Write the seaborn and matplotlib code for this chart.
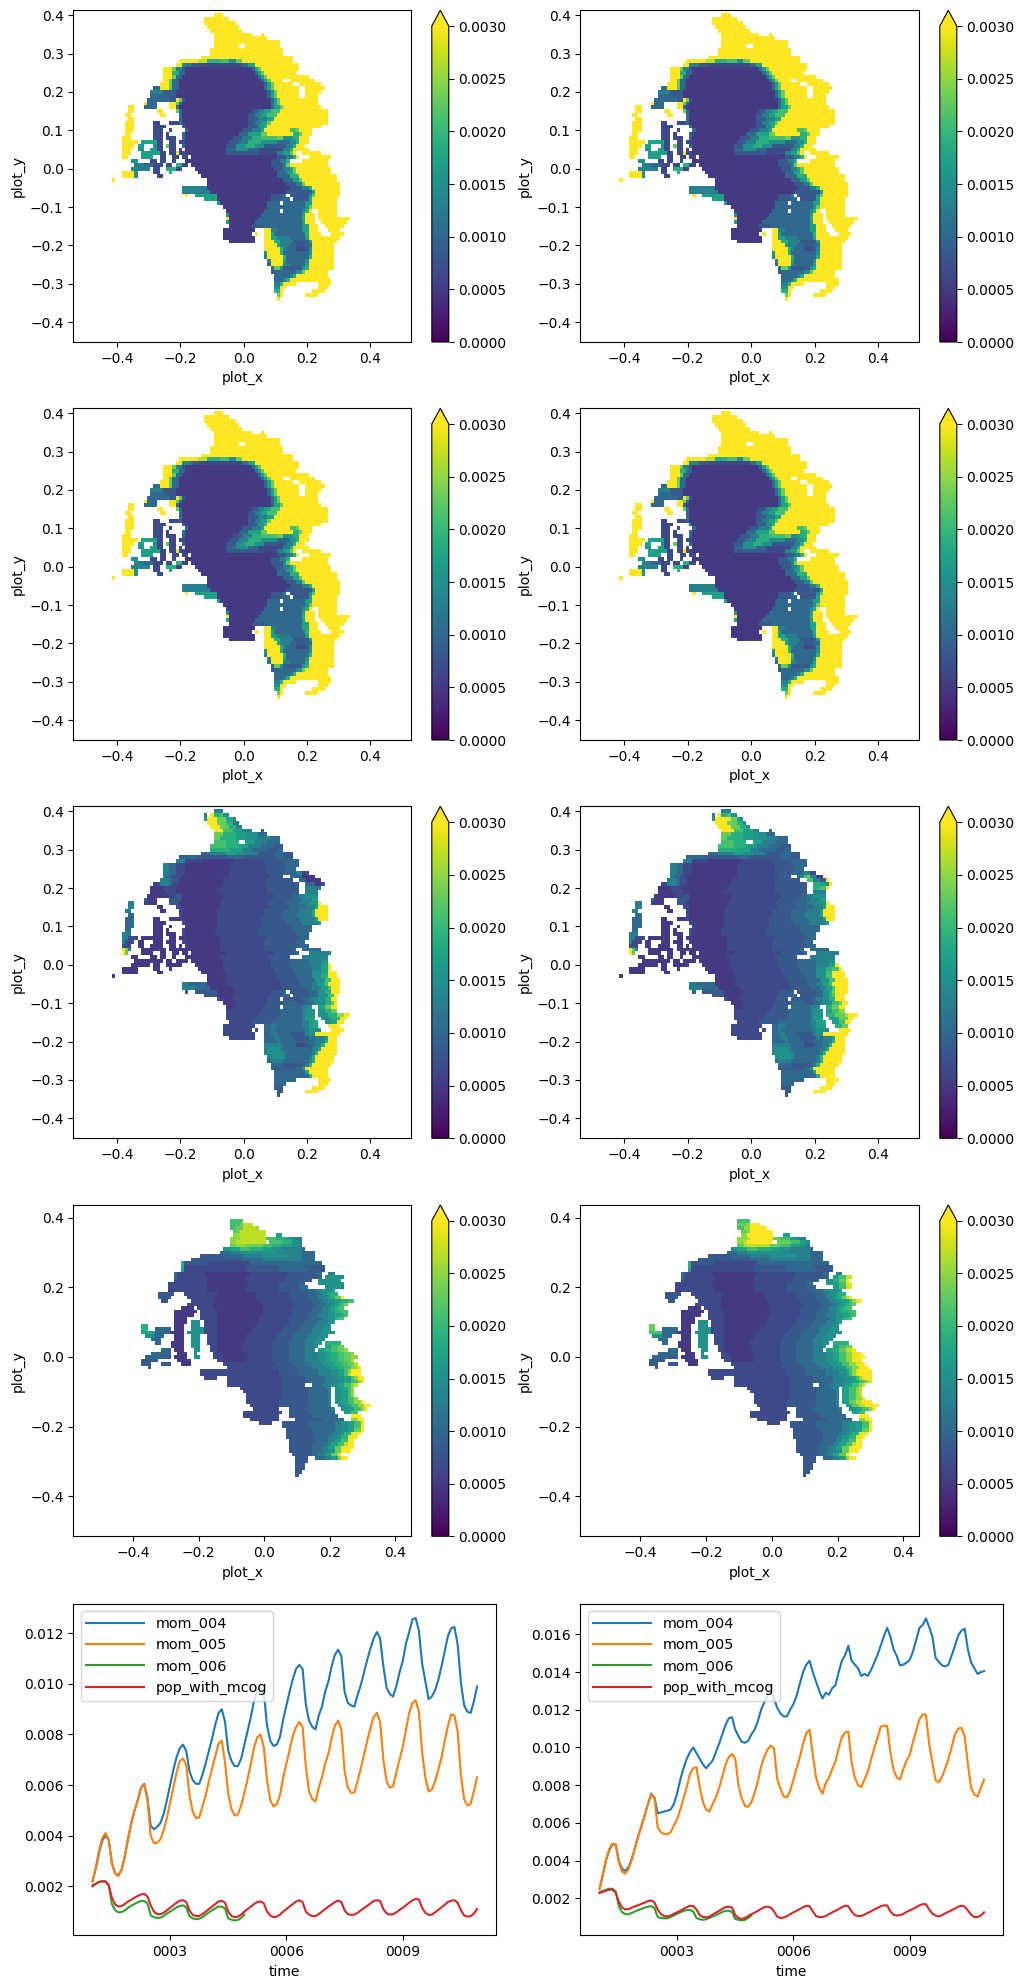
import re
import numpy as np
import pandas as pd
import matplotlib
matplotlib.use('Agg')
import matplotlib.pyplot as plt
import seaborn as sns

plt.rcParams['font.size'] = 10

# colour levels of the maps, letter -> value, Y is above the colour bar
level_names = list('abcdefghijklmnY')
level_values = [0.0003, 0.0005, 0.00066, 0.00083, 0.0010, 0.0013, 0.0015, 0.0017,
                0.0019, 0.0021, 0.0023, 0.0025, 0.0027, 0.0029, 0.0035]

# maps, run length coded rows on a 0.01 grid, y from 0.40 down, x from -0.42
map_top = [
"33. 3Y","30. 8Y","30. 10Y","31. 10Y","32. 10Y","33. 12Y 3. 1Y","33. 17Y","33. 21Y","33. 8Y 2. 11Y","32. 23Y","32. 23Y","29. 29Y",
"22. 6Y 3m 4i 3j 2g 2k 16Y","21. 2Y 3f 3d 13c 2e 2h 14Y","17. 3Y 1k 2f 1d 21b 1e 1h 1k 12Y","17. 3Y 2i 2e 22b 1e 1h 1k 10Y",
"17. 3Y 1k 2e 24b 1e 1h 1k 13Y","17. 2Y 1k 2e 26b 1e 1h 1k 4Y 2. 8Y","16. 3Y 1k 2e 27b 1e 1h 1k 6Y 2. 7Y",
"14. 2e 3Y 1k 2e 27b 1e 1h 1k 8Y 2. 6Y","13. 4f 4d 29b 1e 1h 1k 7Y 2. 5Y","13. 5e 3d 29b 1e 1h 1k 7Y 2. 4Y",
"12. 7e 2d 1Y 1k 1d 27b 1e 1h 1k 12Y","11. 1Y 3e 4. 2Y 1k 1e 28b 1e 1h 1k 12Y","6. 2Y 3. 4e 4. 2Y 1e 29b 1e 2h 1k 12Y",
"6. 2Y 7. 2Y 4. 1k 1e 22b 2d 2f 2h 3j 15Y","5. 2Y 9. 2Y 4. 1e 21b 2d 2f 2h 3j 16Y","6. 2Y 14. 1e 21b 3d 3f 2h 17Y",
"5. 3Y 6. 2c 3. 3c 1e 21b 2d 2f 2h 1k 18Y","5. 3Y 6. 4c 5. 1e 20b 3d 2g 1i 17Y","5. 3Y 6. 3c 2. 1c 4. 1e 17b 3d 3f 1h 8Y 2j 1k 4Y",
"5. 2Y 7. 3c 1. 1c 4. 1e 17b 3e 4h 2k 8Y 2i 1k 3Y","4. 3Y 7. 3c 1. 3c 2. 1e 15b 3d 3f 3i 5j 2k 3g 2i 3Y",
"4. 5Y 1. 5h 2c 2. 2c 1. 2c 14b 3d 3f 4i 5g 4e 2g 1i 3Y","4. 4Y 1. 2h 3. 1g 2c 1. 1k 2c 2. 1e 13b 3d 3g 3i 3g 7d 2f 1i 3Y",
"4. 3Y 2. 2g 2. 2h 2c 2. 2c 1. 1c 1. 13b 3e 4g 3e 8c 2f 1i 5Y","4. 3Y 3. 6h 2c 1. 2c 1Y 2c 13b 10d 6c 2f 2h 1k 1Y 2. 6Y",
"4. 2Y 4. 4h 2. 2c 2. 2c 1. 2c 1. 27b 3d 2f 1i 1Y 3. 7Y","7. 2g 4. 2c 1. 2c 2. 1c 3. 27b 3d 2f 1i 4. 8Y",
"8. 3f 3e 3c 1. 2c 1. 2i 2c 1. 25b 4d 1f 1k 12Y","7. 6f 1. 2c 2. 3i 2c 4. 25b 3d 2f 1h 1k 11Y","4. 4Y 1g 5. 2c 3. 1i 8. 25b 3e 2h 1k 11Y",
"4. 4Y 1g 6. 2c 12. 24b 4e 3i 12Y","1. 1Y 29. 24b 3e 2h 1k 11Y","31. 25b 3d 2f 1k 11Y","23. 8f 26b 4d 2f 1i 9Y","23. 9f 24b 5d 3d 1h 8Y",
"24. 1Y 2. 7h 17b 4d 1f 1. 6d 1g 1k 8Y","30. 4h 17b 4d 2e 1. 5d 1h 8Y","34. 1h 15b 4e 1. 7e 2h 8Y","36. 14b 12e 1g 1k 8Y",
"37. 12b 3e 2e 1. 6e 1g 1i 1Y 2. 6Y","37. 1g 10b 13e 1h 3Y 1. 6Y","37. 1Y 9b 14e 1i 3Y 1. 10Y","37. 1h 8b 15e 1h 3Y 2. 8Y",
"38. 7b 4d 12e 2h 3Y 2. 6Y","36. 10b 3. 2Y 2f 8e 2h 3Y 3. 4Y","36. 9b 1. 1Y 2. 2Y 1h 10e 1i 4Y 3. 4Y","36. 10b 3. 2Y 2h 4f 5e 1h 10Y",
"38. 8b 3. 3Y 2i 4f 5d 1h 8Y","49. 4Y 1h 3f 2e 3d 2e 7Y","49. 5Y 1i 1f 3e 3c 1d 1g 7Y","49. 1g 4Y 1i 8e 1g 7Y","49. 1f 5Y 1i 7e 1i 7Y",
"50. 1f 4Y 1h 6e 1g 8Y","50. 1e 4Y 2f 5e 1h 8Y","51. 1e 2k 1g 6d 1g 1i 8Y","51. 1d 7e 2g 1k 7Y","52. 5e 1f 1i 10Y","52. 3e 1f 1i 13Y",
"52. 2f 1i 4Y 7. 4Y","52. 2g 2Y 10. 3Y","52. 2i 1Y 9. 4Y","53. 1k 1Y 7. 4Y","53. 1Y",
]

map_mid = [
"33. 3f","30. 1f 1. 1Y 2i 1j 2g","30. 1g 3Y 3k 2h 1g","31. 3Y 3k 2i 2f","32. 3Y 3k 2i 2f","33. 3Y 3j 3h 3f 3. 1e","33. 3k 4i 3h 4g 3e",
"33. 2k 5i 3h 4g 4f 3e","33. 4j 4i 2. 3h 4f 4e","32. 5j 4i 3h 4f 4e 3d","32. 6i 4h 3f 5e 3d 2e","29. 3e 5f 3h 3g 4f 5d 3e 3d",
"22. 6e 5d 5d 4e 5d 5d 3e 3d","21. 3f 5c 10b 10c 6d 5e","17. 2f 2e 3c 14b 12c 6d 4e","17. 2f 2e 3c 14b 12c 6d 3e",
"17. 2f 2e 3c 14b 12c 5d 4e 2f 2c","17. 1f 2e 3c 15b 13c 4d 2. 4e 4b","16. 3f 1e 2d 14b 14c 8d 2. 2e 5b",
"14. 2c 3f 1e 2c 14b 14c 10d 2. 3e 2b 1d","13. 4b 4c 14b 15c 10d 2. 5f","13. 5b 3c 13b 16c 10d 2. 4f",
"12. 7b 2c 2d 13b 16c 6d 2e 2f 4g","11. 1e 3b 4. 2d 2d 13b 15c 6d 4e 3f 2h","6. 2f 3. 4b 4. 2d 1d 13b 15c 6d 4e 3f 3g 1Y",
"6. 2f 7. 2b 4. 1c 1c 12b 16c 6d 5e 3f 1h 3Y","5. 2f 9. 2b 4. 1c 11b 15c 6d 5e 4f 1h 4Y","6. 2e 14. 1c 11b 15c 6d 4e 5f 1h 4Y",
"5. 3e 6. 2b 3. 3b 1c 11b 14c 7d 5e 5f 1h 3Y","5. 3e 6. 4b 5. 1c 10b 14c 8d 5e 5f 1h","5. 3e 6. 3b 2. 1b 4. 1c 9b 14c 10d 6e",
"5. 2e 7. 3b 1. 1b 4. 1c 9b 14c 11d 6e","4. 3f 7. 3b 1. 3b 2. 1c 9b 14c 12d 4e","4. 2f 3c 1. 5b 2b 2. 2b 1. 2b 11b 15c 10d 3e",
"4. 1f 3c 1. 2b 3. 1b 2b 1. 1b 2b 2. 1c 11b 14c 10d 3e","4. 3c 2. 2b 2. 2b 2b 2. 2b 1. 1b 1. 11b 14c 11d 3e",
"4. 1Y 1k 1f 3. 6b 2b 1. 2b 1c 2b 11b 14c 9d 1e 2. 6e","4. 1Y 1k 4. 4b 2. 2b 2. 2b 1. 2b 1. 11b 15c 7d 1e 3. 7f",
"7. 2b 4. 2b 1. 2b 2. 1b 3. 11b 15c 7d 4. 8f","8. 6b 3b 1. 2b 1. 2b 2b 1. 10b 15c 6d 6e 4f 2g","7. 6b 1. 2b 2. 3b 2b 4. 9b 15c 6d 6e 4f 2h 1Y",
"4. 3b 1b 1b 5. 2b 3. 1b 8. 8b 16c 6d 6e 3f 2h 1Y","4. 3b 2b 6. 2b 12. 8b 15c 6d 6e 3g 2h 3Y","1. 1b 29. 6b 16c 6d 5e 3g 2i 3Y",
"31. 6b 17c 6d 5e 3g 2j 3Y","23. 2f 6e 6b 17c 6d 4e 2f 2h 1j 4Y","23. 4f 5e 7b 16c 6d 3e 3f 2h 1j 3Y",
"24. 1e 2. 7d 6b 11c 4d 1e 1. 6d 3e 2g 2i 3Y","30. 4d 5b 12c 4d 2e 1. 5d 3e 3g 2j 1Y","34. 1d 4b 11c 4d 1. 6d 2e 2f 3g 2i 2Y",
"36. 4b 10c 5d 4e 3d 2e 1f 3g 2i 1k 1Y","37. 3b 9c 5d 1. 6e 2f 1g 2. 2h 2k 1n 1Y","37. 11c 6d 7e 1f 3g 1. 2g 2i 2k",
"37. 10c 7d 7e 1f 3g 1. 3g 3i 2l 2Y","37. 9c 7d 8e 1f 3h 2. 3g 3i 2Y","38. 7c 6d 10e 2f 3h 2. 2g 2h 2Y","36. 10c 3. 2e 2f 8e 2f 3h 3. 4Y",
"36. 9c 1. 1c 2. 2e 1f 10e 1f 4g 3. 4Y","36. 10c 3. 2e 2f 4e 5d 1f 2g 8Y","38. 8c 3. 3e 2f 4e 5d 1f 1e 3f 1h 3Y","49. 4e 1f 3e 2e 3d 2e 1e 3f 1i 3Y",
"49. 5f 1f 1e 3e 3c 1d 1e 1e 2f 1i 4Y","49. 1f 4g 1f 8e 1e 2f 1h 5Y","49. 1f 5g 1f 7e 1e 1f 1i 6Y","50. 1f 4g 1f 6e 1e 1f 1i 6Y","50. 1e 4f 2e 5e 1e 1f 1i 6Y",
"51. 4e 6d 1e 1f 1i 6Y","51. 8d 2e 1g 7Y","52. 10e 1h 6Y","52. 11e 1i 5Y","52. 2e 1e 4e 7. 4Y","52. 2e 2e 10. 3Y","52. 3d 9. 4Y","53. 2d 7. 4Y","53. 1d",
]

map_low = [
"1.","32. 4j","32. 3j 1k 3m","32. 2j 2k 4m 1l","33. 2k 8m","33. 2l 8m 3. 2h","32. 3l 8m 3j 3i 2h 1g 2f","32. 2l 9m 1. 4j 3i 2g 1f",
"32. 2k 3l 5k 3j 3i 3h 2g 1f","30. 2g 3h 3j 4i 3h 3g 3f 3f 1e","29. 3e 3f 3g 4g 4g 4f 4f 4e","23. 7d 6e 6f 8g 4f 3e 1e","20. 8d 8d 6e 6f 6f 4e",
"17. 1i 7d 13c 8e 8e 6e","17. 1i 7c 12c 10d 8e 6d","17. 1h 7c 12c 10d 9e 5d","15. 1e 8c 14b 12c 8d 2e 2. 2f","15. 1e 9c 12b 12c 10d 1e 1. 6g",
"15. 10c 12b 12c 7d 1e 2. 7g","13. 12c 12b 10c 6d 2e 4. 8g","13. 12c 12b 10c 6d 3e 5. 5g 1f","13. 2b 10c 12b 10c 7d 4e 2f 3g 1h",
"10. 5d 3. 10c 12b 10c 6d 3e 1f 2g 1h 2i","10. 4d 5. 8c 13b 10c 6d 3e 2f 1g 1h 1i 2k 1Y","11. 2d 7. 7c 14b 10c 6d 3e 2f 2g 2h 2i 2j",
"19. 8c 15b 10c 6d 3e 2f 1g 1h 1i 1j 1k","17. 4b 1. 5c 15b 9c 6d 3e 2f 1g 1h 1i 2j","15. 7b 1. 5c 14b 9c 6d 3e 2f 1g 1h 2i 2j",
"15. 6b 2. 5c 14b 9c 5d 3e 3f 2g 2h 1i 1j","15. 4b 4. 5c 13b 9c 6d 4e 2f 2g 1i 2j","15. 4b 1. 3g 1. 4c 13b 9c 5d 4e 3f 1g 1h",
"5. 2i 8. 3b 2. 3g 1. 4c 12b 9c 5d 4e 3f 2g","5. 2i 2. 5e 1. 3b 2. 4g 4c 11b 9c 5d 4e 3f 3g","5. 4h 5e 4b 1. 5g 4c 10b 9c 5d 5e 3f 4g",
"6. 3g 3e 3. 3b 2. 3g 2. 3c 9b 9c 5d 5e 3f 3g","8. 3e 4. 3b 2. 3g 2. 3c 9b 9c 5d 4e 3f 3g","9. 2e 3. 4b 2. 3g 2. 3c 8b 9c 5d 5e 3f 2g 1. 5i",
"14. 4b 2. 3g 3. 2c 8b 9c 5d 5e 3f 1g 2. 2h 2j 2k","11. 3e 1. 3b 3. 2g 3. 2c 8b 9c 5d 5e 3f 1. 2h 2i 2j 2k 1l",
"8. 6e 2. 3b 2. 1g 5. 2c 8b 8c 5d 5e 4f 2g 2h 2i 2j 2k 1l","6. 5e 3d 1. 4b 2. 2g 4. 3c 7b 8c 5d 5e 4f 2g 2h 2i 2j 2k 2l",
"5. 5d 6. 4b 8. 2c 7b 8c 5d 5e 4f 2g 2h 2i 2j 2k 1m","5. 3d 3. 3d 3. 3b 10. 8c 8c 5d 5e 4f 2g 2h 2i 2j 2k 1m",
"7. 1d 23. 7c 7c 7d 5e 4f 2g 2h 2i 2j 2l 1n","23. 24c 6d 6e 4f 2g 2h 1j 1l 3Y","23. 24c 6d 6e 4f 2g 2h 1j 1m 3Y","24. 4c 3. 17c 7d 6e 3f 3g 2h 1j 1l 2Y",
"31. 17c 8d 5e 4f 2g 2h 2j 1l 1n","31. 17c 7d 2. 3e 3f 2g 2h 2j 1l 1m","35. 13c 8d 5e 2f 1. 2g 2h 1j 1l","36. 12c 8d 6e 1f 1. 2g 2h 1j 1l",
"37. 11c 8d 6e 1f 1. 2g 2h 1j 1l","37. 11c 8d 6e 1f 1. 2g 2h 2j 1l","37. 10c 9d 6e 1f 1. 2g 2h 2j 2l 1Y","38. 9c 9d 6e 1f 2. 2g 2h 2j 2l 2Y",
"39. 8c 3. 5d 8e 1f 2. 2g 2h 2j 1l 1n","36. 12c 2. 6d 8e 3. 2h 2j","36. 11c 3. 7d 8e 4. 3Y","38. 9c 5. 8d 7e 2. 2l 2Y",
"41. 4c 3. 8d 8e 2f 2g 2h 2j 1n","48. 8d 8e 2f 2g 2h 2j 1Y","49. 8d 7e 2f 2g 2h 2k 1Y","49. 9d 5e 2f 2g 2i 2n 1Y","49. 9d 4e 2f 2g 2i 2n 1Y",
"50. 8d 4e 2f 2h 2j 2Y","50. 7d 4e 2f 2h 2j 1m 2Y","50. 7d 3e 2f 2h 2k 1n 3Y","50. 7d 3e 2f 2g 2k 3Y","51. 6d 2e 2f 2h 2k 1Y",
"52. 4d 2. 3e 2f 2h 1l 2Y","52. 4d","52. 3d","52. 3d","52. 2d","52. 1d",
]

# rows where the right hand panels differ, row number -> row
mid_right_rows = {
    2: "30. 1g 5Y 2k 1h 1g", 3: "31. 4Y 3k 2i 1g", 4: "32. 4Y 3k 2i 1g", 5: "33. 4Y 3j 3h 2f 3. 1e",
    17: "17. 1f 2e 3c 15b 13c 4d 2. 1e 1g 1j 1k 2f 2b", 18: "16. 3f 1e 2d 14b 14c 8d 2. 2j 2f 2d 1Y",
    19: "14. 2c 3f 1e 2c 14b 14c 10d 2. 2i 2h 1f 1Y", 20: "13. 4b 4c 14b 15c 10d 2. 2i 2j 1Y",
    41: "4. 3b 1b 1b 5. 2b 3. 1b 8. 8b 16c 6d 5e 3g 2i 2j 1Y", 42: "4. 3b 2b 6. 2b 12. 8b 15c 6d 5e 3g 2j 4Y",
    43: "1. 1b 29. 6b 16c 6d 4e 3g 2j 4Y", 44: "31. 6b 17c 6d 4e 3g 2j 4Y", 45: "23. 2f 6e 6b 17c 6d 3e 2f 2h 1j 5Y",
    46: "23. 4f 5e 7b 16c 6d 3e 2f 2h 1j 4Y", 47: "24. 1e 2. 7d 6b 11c 4d 1e 1. 6d 2e 2g 1i 1k 4Y",
    48: "30. 4d 5b 12c 4d 2e 1. 5d 2e 2g 1i 1k 3Y", 49: "34. 1d 4b 11c 4d 1. 6d 2e 2f 2g 2i 3Y",
    50: "36. 4b 10c 5d 4e 3d 2e 1f 3g 2j 1k 2Y", 51: "37. 3b 9c 5d 1. 6e 2f 1g 2. 2i 2k 2Y",
    52: "37. 11c 6d 7e 1f 3g 1. 2h 2j 2l", 53: "37. 10c 7d 7e 1f 3g 1. 3i 3k 1m 3Y",
    54: "37. 9c 7d 8e 1f 3h 2. 3h 3k 2Y", 55: "38. 7c 6d 10e 2f 3h 2. 2h 2j 2Y",
    56: "36. 10c 3. 2e 2f 8e 2f 3h 3. 2i 2k",
}
low_right_rows = {
    2: "32. 3k 1l 3Y", 3: "32. 2j 2l 5Y", 4: "33. 2k 1l 7Y", 5: "33. 2l 8Y 3. 2h", 6: "32. 3l 1m 7Y 2k 3j 2h 1g 2f",
    7: "32. 2l 1m 8Y 1. 4k 3j 2h 1g", 8: "32. 2k 3m 5m 3k 3j 3h 2g 1f",
    17: "15. 1e 9c 12b 12c 10d 1e 1. 2h 2j 2m", 18: "15. 10c 12b 12c 7d 1e 2. 2g 2i 2k 1n",
    19: "13. 12c 12b 10c 6d 2e 4. 2g 2h 2j 2n", 20: "13. 12c 12b 10c 6d 3e 5. 2h 2j 1m 1n",
    23: "10. 4d 5. 8c 13b 10c 6d 3e 2f 1g 1h 1i 1k 1m 1Y", 24: "11. 2d 7. 7c 14b 10c 6d 3e 2f 2g 2h 1j 1l 1n 1Y",
    31: "5. 2k 8. 3b 2. 3g 1. 4c 12b 9c 5d 4e 3f 2g", 32: "5. 2k 2. 5e 1. 3b 2. 4g 4c 11b 9c 5d 4e 3f 3g",
    33: "5. 4j 5e 4b 1. 5g 4c 10b 9c 5d 5e 3f 4g",
    38: "11. 3e 1. 3b 3. 2g 3. 2c 8b 9c 5d 5e 3f 1. 2h 2i 2k 2m 1Y",
    39: "8. 6e 2. 3b 2. 1g 5. 2c 8b 8c 5d 5e 4f 2g 2h 2j 2l 2n 1Y",
    40: "6. 5e 3d 1. 4b 2. 2g 4. 3c 7b 8c 5d 5e 4f 2g 2h 2j 2l 2n 2Y",
    41: "5. 5d 6. 4b 8. 2c 7b 8c 5d 5e 4f 2g 2h 2j 2l 3Y",
    42: "5. 3d 3. 3d 3. 3b 10. 8c 8c 5d 5e 4f 2g 2h 2j 2l 2n 1Y",
    43: "7. 1d 23. 7c 7c 7d 5e 4f 2g 2h 2j 2l 3Y",
    44: "23. 24c 6d 6e 4f 2g 1h 1j 1l 1n 4Y", 45: "23. 24c 6d 6e 4f 2g 1h 1j 1l 1n 4Y",
    46: "24. 4c 3. 17c 7d 6e 3f 3g 1h 1j 1l 1n 2Y",
    49: "35. 13c 8d 5e 2f 1. 2h 2j 1l 1m", 50: "36. 12c 8d 6e 1f 1. 2h 2j 1l 1m", 51: "37. 11c 8d 6e 1f 1. 2h 2j 1l 1m",
    52: "37. 11c 8d 6e 1f 1. 2h 2j 2l 1n", 53: "37. 10c 9d 6e 1f 1. 2h 2k 2m 3Y", 54: "38. 9c 9d 6e 1f 2. 2h 2k 2m 4Y",
}

# monthly series, values in thousandths
left_mom_004 = [2.2,2.7,3.3,3.8,4.0,3.85,2.9,2.5,2.45,2.65,3.2,3.9,
    4.5,5.0,5.4,5.9,6.05,5.5,4.4,4.25,4.35,4.5,4.85,5.4,
    6.0,6.6,7.1,7.45,7.6,7.35,6.55,6.2,6.05,6.05,6.4,6.85,
    7.35,7.85,8.4,8.85,9.0,8.5,7.35,6.95,6.75,6.75,7.05,7.6,
    8.15,8.7,9.35,9.75,9.85,9.65,8.35,7.75,7.55,7.6,7.9,8.6,
    9.15,9.7,10.2,10.6,10.75,10.6,9.2,8.55,8.3,8.2,8.75,9.1,
    9.7,10.1,10.7,11.15,11.35,11.1,9.7,9.25,9.15,9.1,9.55,9.95,
    10.45,10.95,11.4,11.8,12.05,11.8,10.7,9.85,9.6,9.5,9.9,10.45,
    10.9,11.6,12.05,12.55,12.6,12.1,10.8,10.1,9.4,9.5,9.75,10.15,
    10.7,11.3,11.9,12.2,12.25,11.55,10.05,9.15,8.9,8.85,9.3,9.9]
left_mom_005 = [2.2,2.75,3.4,3.9,4.1,3.85,2.9,2.5,2.4,2.65,3.2,3.85,
    4.5,5.0,5.4,5.9,6.0,5.4,4.0,3.7,3.72,3.85,4.2,4.7,
    5.3,5.9,6.5,6.95,7.05,6.8,5.6,4.95,4.7,4.72,5.15,5.6,
    6.15,6.65,7.15,7.65,7.75,6.9,5.65,5.05,4.8,4.85,5.2,5.7,
    6.25,6.85,7.5,7.9,8.0,7.5,6.2,5.4,5.15,5.25,5.6,6.3,
    6.85,7.4,7.95,8.3,8.5,8.3,6.75,5.75,5.45,5.35,5.9,6.3,
    6.85,7.25,7.85,8.35,8.55,8.2,6.55,5.9,5.7,5.7,6.15,6.65,
    7.2,7.75,8.25,8.7,8.85,8.5,7.0,6.15,5.9,5.95,6.5,7.0,
    7.5,8.2,8.85,9.25,9.35,8.9,7.3,6.3,5.75,5.82,6.15,6.6,
    7.1,7.75,8.35,8.8,8.75,8.1,6.4,5.45,5.2,5.25,5.75,6.3]
left_mom_006 = [2.05,2.1,2.17,2.2,2.18,2.05,1.3,1.05,0.97,0.98,1.05,1.15,
    1.23,1.3,1.37,1.42,1.42,1.33,0.85,0.78,0.75,0.76,0.83,0.92,
    1.0,1.08,1.17,1.22,1.25,1.17,0.82,0.73,0.7,0.72,0.78,0.88,
    0.97,1.05,1.13,1.2,1.2,1.12,0.73,0.68,0.65,0.67,0.75,0.88]
left_pop = [2.0,2.1,2.17,2.2,2.2,2.05,1.55,1.28,1.2,1.22,1.3,1.4,
    1.47,1.55,1.62,1.68,1.7,1.6,1.25,1.0,0.9,0.9,0.95,1.05,
    1.15,1.25,1.35,1.43,1.45,1.38,1.05,0.87,0.82,0.83,0.9,1.0,
    1.1,1.2,1.3,1.4,1.43,1.35,1.0,0.83,0.78,0.8,0.88,1.0,
    1.1,1.2,1.3,1.38,1.4,1.33,1.0,0.85,0.78,0.8,0.88,1.0,
    1.1,1.2,1.3,1.4,1.45,1.38,1.0,0.88,0.82,0.83,0.9,1.0,
    1.1,1.2,1.28,1.38,1.43,1.38,1.05,0.9,0.87,0.88,0.95,1.05,
    1.13,1.23,1.32,1.42,1.45,1.42,1.1,0.93,0.88,0.9,0.97,1.07,
    1.15,1.25,1.35,1.45,1.5,1.48,1.15,0.95,0.87,0.88,0.97,1.07,
    1.17,1.27,1.38,1.43,1.45,1.35,1.05,0.85,0.8,0.82,0.92,1.1]

right_mom_004 = [2.5,3.2,4.0,4.55,4.85,4.85,3.95,3.55,3.45,3.65,4.1,4.7,
    5.3,5.85,6.4,7.0,7.55,7.35,6.5,6.55,6.6,6.65,6.7,7.0,
    7.55,8.3,8.9,9.4,9.75,10.0,9.7,9.4,9.1,8.9,9.1,9.3,
    9.75,10.2,10.7,11.2,11.55,11.6,10.95,10.6,10.3,10.25,10.35,10.7,
    10.95,11.4,12.0,12.4,12.75,13.0,12.6,12.1,11.8,11.65,11.65,12.0,
    12.3,12.75,13.4,14.0,14.4,14.6,14.0,13.5,13.0,12.6,12.9,12.8,
    13.15,13.3,14.0,14.6,14.9,15.4,14.6,14.4,14.2,13.8,13.9,13.8,
    14.1,14.5,14.9,15.4,15.9,16.35,15.9,15.2,14.85,14.35,14.4,14.5,
    14.65,15.1,15.7,16.35,16.5,16.85,16.4,15.9,14.75,14.55,14.35,14.3,
    14.4,14.9,15.4,15.95,16.2,16.3,15.2,14.5,14.2,13.9,14.0,14.05]
right_mom_005 = [2.5,3.25,4.05,4.6,4.9,4.85,3.9,3.4,3.3,3.55,4.05,4.7,
    5.3,5.85,6.45,7.0,7.5,7.3,5.75,5.5,5.4,5.4,5.5,5.85,
    6.2,6.7,7.3,7.9,8.6,8.9,8.95,7.9,7.1,6.7,6.6,7.0,
    7.35,7.85,8.45,9.1,9.5,9.65,9.4,8.0,7.3,6.9,6.85,7.1,
    7.6,8.2,9.0,9.5,9.9,10.1,9.95,8.3,7.8,7.4,7.35,7.7,
    8.3,8.9,9.5,10.2,10.75,10.95,9.6,8.4,7.85,7.55,8.1,8.4,
    8.85,9.25,9.95,10.55,10.8,10.85,9.2,8.4,8.0,7.9,8.3,8.7,
    9.35,9.95,10.5,11.1,11.15,11.15,9.75,8.8,8.4,8.3,8.85,9.3,
    9.6,10.3,10.9,11.5,11.75,11.75,10.2,9.2,8.25,8.15,8.45,8.9,
    9.4,10.05,10.7,11.0,11.05,10.55,9.1,7.85,7.5,7.4,7.85,8.3]
right_mom_006 = [2.33,2.38,2.45,2.5,2.5,2.35,1.55,1.25,1.15,1.15,1.22,1.3,
    1.37,1.43,1.5,1.55,1.58,1.48,1.0,0.95,0.93,0.93,1.0,1.08,
    1.17,1.25,1.32,1.37,1.37,1.3,0.95,0.88,0.85,0.88,0.95,1.03,
    1.1,1.18,1.27,1.33,1.33,1.27,0.9,0.85,0.82,0.85,0.95,1.08]
right_pop = [2.27,2.33,2.4,2.45,2.45,2.3,1.8,1.5,1.4,1.42,1.5,1.57,
    1.63,1.7,1.77,1.85,1.88,1.77,1.4,1.15,1.05,1.03,1.08,1.17,
    1.25,1.33,1.43,1.52,1.6,1.58,1.4,1.1,1.0,0.98,1.02,1.13,
    1.23,1.33,1.43,1.53,1.55,1.5,1.1,0.95,0.9,0.95,1.05,1.15,
    1.23,1.33,1.43,1.52,1.55,1.5,1.3,1.02,0.95,0.97,1.05,1.15,
    1.25,1.33,1.43,1.52,1.6,1.57,1.3,1.05,1.0,1.0,1.05,1.15,
    1.25,1.33,1.42,1.52,1.6,1.57,1.3,1.1,1.05,1.05,1.13,1.22,
    1.3,1.4,1.48,1.57,1.62,1.62,1.3,1.12,1.08,1.1,1.17,1.27,
    1.35,1.43,1.52,1.62,1.68,1.68,1.4,1.18,1.08,1.03,1.1,1.2,
    1.28,1.37,1.45,1.55,1.6,1.55,1.35,1.12,1.0,1.0,1.08,1.25]

series_names = ['mom_004', 'mom_005', 'mom_006', 'pop_with_mcog']
time_ticks = [24, 60, 96]
time_labels = ['0003', '0006', '0009']
cbar_ticks = [0.0, 0.0005, 0.001, 0.0015, 0.002, 0.0025, 0.003]


def parse_map(rows):
    values = dict(zip(level_names, level_values))
    table = np.full((len(rows), 77), np.nan)
    for r, row in enumerate(rows):
        c = 0
        for count, name in re.findall(r'(\d+)(\D)', row):
            if name in values:
                table[r, c:c + int(count)] = values[name]
            c += int(count)
    y = np.round(0.40 - 0.01 * np.arange(len(rows)), 2)
    x = np.round(-0.42 + 0.01 * np.arange(77), 2)
    return pd.DataFrame(table, index=y, columns=x)


def with_rows(rows, changed):
    return [changed.get(i, row) for i, row in enumerate(rows)]


def px_axes(fig, x0, x1, y0, y1):
    return fig.add_axes([x0 / 1024, 1 - y1 / 1988, (x1 - x0) / 1024, (y1 - y0) / 1988])


def tick_text(vals):
    return [f'{v:.1f}'.replace('-', '\u2212') for v in vals]


def draw_map(fig, rows, x0, x1, y0, y1, xlim, ylim, yticks):
    ax = px_axes(fig, x0, x1, y0, y1)
    cax = px_axes(fig, x1 + 20.5, x1 + 37.5, y0, y1)
    sns.heatmap(parse_map(rows), ax=ax, cbar_ax=cax, cmap='viridis', vmin=0, vmax=0.003,
                xticklabels=False, yticklabels=False,
                cbar_kws={'extend': 'max', 'ticks': cbar_ticks, 'format': '%.4f'})
    # heatmap works in cell numbers, so map the data limits and ticks onto them
    col = lambda v: (np.asarray(v) + 0.42) / 0.01 + 0.5
    row = lambda v: (0.40 - np.asarray(v)) / 0.01 + 0.5
    ax.set_xlim(col(xlim[0]), col(xlim[1]))
    ax.set_ylim(row(ylim[0]), row(ylim[1]))
    xticks = [-0.4, -0.2, 0.0, 0.2, 0.4]
    ax.set_xticks(col(xticks), tick_text(xticks), rotation=0)
    ax.set_yticks(row(yticks), tick_text(yticks), rotation=0)
    ax.set_xlabel('plot_x')
    ax.set_ylabel('plot_y')
    ax.tick_params(length=3.5, width=0.8)
    for s in ax.spines.values():
        s.set_visible(True)
        s.set_linewidth(0.8)
    ax.collections[0].colorbar.outline.set_linewidth(0.8)
    cax.tick_params(length=3.5, width=0.8)


def draw_lines(fig, x0, x1, y0, y1, series, ylim, yticks):
    ax = px_axes(fig, x0, x1, y0, y1)
    for name, values in zip(series_names, series):
        sns.lineplot(x=np.arange(len(values)), y=np.array(values) / 1000, label=name, ax=ax, lw=1.5)
    ax.set_xlim(-5.95, 124.95)
    ax.set_ylim(ylim)
    ax.set_xticks(time_ticks, time_labels)
    ax.set_yticks(yticks, [f'{v:.3f}' for v in yticks])
    ax.set_xlabel('time')
    ax.set_ylabel('')
    ax.legend(loc='upper left', fontsize=10.4, handlelength=4)


fig = plt.figure(figsize=(10.24, 19.88), dpi=100)

full_x = (-0.538, 0.529)
full_y = (-0.452, 0.413)
y_ticks = [-0.4, -0.3, -0.2, -0.1, 0.0, 0.1, 0.2, 0.3, 0.4]
low_ticks = [-0.4, -0.2, 0.0, 0.2, 0.4]

draw_map(fig, map_top, 73.3, 411.3, 10.3, 342, full_x, full_y, y_ticks)
draw_map(fig, map_top, 580.3, 919.3, 10.3, 342, full_x, full_y, y_ticks)
draw_map(fig, map_top, 73.3, 411.3, 408.3, 740, full_x, full_y, y_ticks)
draw_map(fig, map_top, 580.3, 919.3, 408.3, 740, full_x, full_y, y_ticks)
draw_map(fig, map_mid, 73.3, 411.3, 806.3, 1138.3, full_x, full_y, y_ticks)
draw_map(fig, with_rows(map_mid, mid_right_rows), 580.3, 919.3, 806.3, 1138.3, full_x, full_y, y_ticks)
draw_map(fig, map_low, 73.3, 411.3, 1205, 1536.3, (-0.583, 0.449), (-0.515, 0.436), low_ticks)
draw_map(fig, with_rows(map_low, low_right_rows), 580.3, 919.3, 1205, 1536.3, (-0.583, 0.449), (-0.515, 0.436), low_ticks)

draw_lines(fig, 73.3, 496.3, 1603.7, 1935.3, [left_mom_004, left_mom_005, left_mom_006, left_pop],
           (0.000063, 0.01317), [0.002, 0.004, 0.006, 0.008, 0.010, 0.012])
draw_lines(fig, 580.3, 1003.3, 1603.7, 1935.3, [right_mom_004, right_mom_005, right_mom_006, right_pop],
           (0.00003, 0.01763), [0.002, 0.004, 0.006, 0.008, 0.010, 0.012, 0.014, 0.016])

fig.savefig('out.png', dpi=100)
